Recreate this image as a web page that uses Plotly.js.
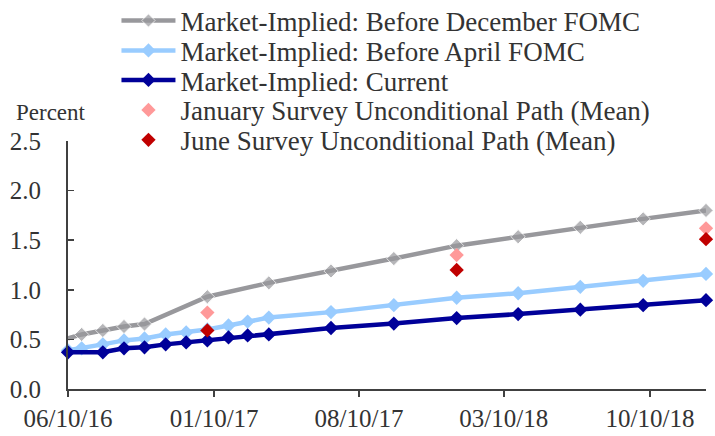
<!DOCTYPE html>
<html>
<head>
<meta charset="utf-8">
<script src="https://cdn.plot.ly/plotly-3.0.1.min.js"></script>
<style>
html,body{margin:0;padding:0;background:#fff;}
#chart{width:715px;height:436px;}
</style>
</head>
<body>
<div id="chart"></div>
<script>
// ---- data ----
const seriesNames = [
  "Market-Implied: Before December FOMC",
  "Market-Implied: Before April FOMC",
  "Market-Implied: Current",
  "January Survey Unconditional Path (Mean)",
  "June Survey Unconditional Path (Mean)"
];
const datesDecember = ["2016-06-10","2016-06-30","2016-07-31","2016-08-31","2016-09-30","2016-12-31","2017-03-31","2017-06-30","2017-09-30","2017-12-31","2018-03-31","2018-06-30","2018-09-30","2018-12-31"];
const valuesDecember = [0.51,0.55,0.59,0.63,0.655,0.93,1.07,1.19,1.315,1.445,1.535,1.63,1.715,1.80];

const datesApril = ["2016-06-10","2016-06-30","2016-07-31","2016-08-31","2016-09-30","2016-10-31","2016-11-30","2016-12-31","2017-01-31","2017-02-28","2017-03-31","2017-06-30","2017-09-30","2017-12-31","2018-03-31","2018-06-30","2018-09-30","2018-12-31"];
const valuesApril = [0.39,0.41,0.45,0.49,0.51,0.55,0.57,0.60,0.64,0.68,0.72,0.775,0.845,0.92,0.965,1.03,1.09,1.16];

const datesCurrent = ["2016-06-10","2016-07-31","2016-08-31","2016-09-30","2016-10-31","2016-11-30","2016-12-31","2017-01-31","2017-02-28","2017-03-31","2017-06-30","2017-09-30","2017-12-31","2018-03-31","2018-06-30","2018-09-30","2018-12-31"];
const valuesCurrent = [0.37,0.37,0.41,0.42,0.45,0.47,0.49,0.52,0.54,0.55,0.615,0.66,0.715,0.755,0.80,0.845,0.895];

const datesSurvey = ["2016-12-31","2017-12-31","2018-12-31"];
const valuesJanuary = [0.77,1.35,1.62];
const valuesJune = [0.59,1.20,1.51];

const xTickVals = ["2016-06-10","2017-01-10","2017-08-10","2018-03-10","2018-10-10"];
const xRange = ["2016-06-10","2018-12-31"];
const yTickVals = [0,0.5,1,1.5,2,2.5];

// ---- styles ----
const FONT = "Liberation Serif, Times New Roman, serif";
const TXT = "#333333";
const colors = ["#98989c","#99ccff","#000099","#ff9999","#c00000"];
const MS = 11;

const markerSizesDec = valuesDecember.map((v,i)=> i===0 ? 0 : MS);

const traces = [
  {x: datesDecember, y: valuesDecember, name: seriesNames[0], mode:"lines+markers",
   line:{color:colors[0], width:4.5}, marker:{symbol:"diamond", size:markerSizesDec, color:colors[0]}, legend:"legend", cliponaxis:false},
  {x: datesApril, y: valuesApril, name: seriesNames[1], mode:"lines+markers",
   line:{color:colors[1], width:4.5}, marker:{symbol:"diamond", size:MS, color:colors[1]}, legend:"legend2", cliponaxis:false},
  {x: datesCurrent, y: valuesCurrent, name: seriesNames[2], mode:"lines+markers",
   line:{color:colors[2], width:4.5}, marker:{symbol:"diamond", size:MS, color:colors[2]}, legend:"legend3", cliponaxis:false},
  {x: datesSurvey, y: valuesJanuary, name: seriesNames[3], mode:"markers",
   marker:{symbol:"diamond", size:MS, color:colors[3]}, legend:"legend4", cliponaxis:false},
  {x: datesSurvey, y: valuesJune, name: seriesNames[4], mode:"markers",
   marker:{symbol:"diamond", size:MS, color:colors[4]}, legend:"legend5", cliponaxis:false}
];

const L = 67.5, R = 9, T = 141, B = 46.5;
const W = 715 - L - R, H = 436 - T - B;
const px2x = px => (px - L) / W;
const py2y = py => (436 - B - py) / H;

function mkLegend(rowY){
  return {x: px2x(116), xanchor:"left", y: py2y(rowY), yanchor:"middle",
    bgcolor:"rgba(0,0,0,0)", borderwidth:0, itemwidth:54,
    font:{family:FONT, size:27, color:TXT}, itemclick:false};
}
const rows = [20.7, 50.7, 80.3, 110.3, 140.3];

const layout = {
  width:715, height:436,
  margin:{l:L, r:R, t:T, b:B, pad:0, autoexpand:false},
  paper_bgcolor:"#ffffff", plot_bgcolor:"#ffffff",
  font:{family:FONT, size:25, color:TXT},
  showlegend:true,
  legend: mkLegend(rows[0]),
  legend2: mkLegend(rows[1]),
  legend3: mkLegend(rows[2]),
  legend4: mkLegend(rows[3]),
  legend5: mkLegend(rows[4]),
  xaxis:{type:"date", range:xRange, tickvals:xTickVals, tickformat:"%m/%d/%y",
    showgrid:false, zeroline:false, showline:true, linecolor:"#404040", linewidth:1.8,
    ticks:"outside", ticklen:6, tickwidth:1.5, tickcolor:"#404040",
    tickfont:{family:FONT, size:25, color:TXT}},
  yaxis:{range:[0,2.5], tickvals:yTickVals, tickformat:".1f",
    showgrid:false, zeroline:false, showline:true, linecolor:"#404040", linewidth:2,
    ticks:"inside", ticklen:6, tickwidth:1.5, tickcolor:"#404040",
    ticklabelstandoff:20,
    tickfont:{family:FONT, size:25, color:TXT}},
  annotations:[{text:"Percent", xref:"paper", yref:"paper", x:px2x(13), y:py2y(112),
    xanchor:"left", yanchor:"middle", showarrow:false,
    font:{family:FONT, size:23, color:TXT}}]
};

Plotly.newPlot("chart", traces, layout, {displayModeBar:false, staticPlot:true});
</script>
</body>
</html>
